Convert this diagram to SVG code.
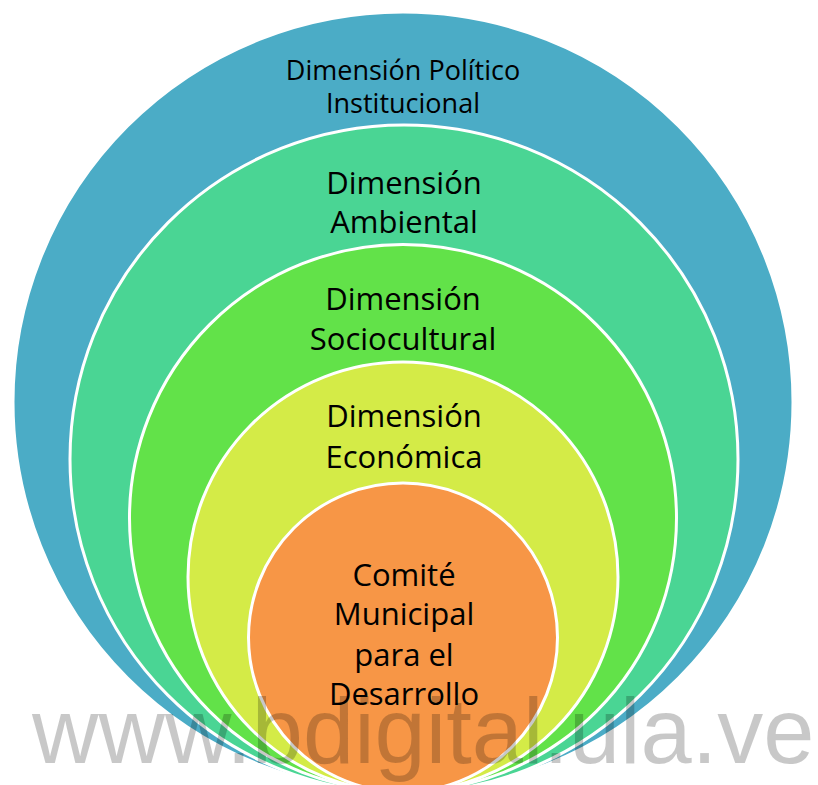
<svg xmlns="http://www.w3.org/2000/svg" width="818" height="785" viewBox="0 0 818 785">
  <style>
    .ring { stroke: #ffffff; stroke-width: 3; }
    .lbl { font-family: "Open Sans", "Liberation Sans", sans-serif; font-size: 31px; fill: #000000; text-anchor: middle; }
    .small { font-size: 27px; }
    .wm { font-family: "Liberation Sans", Arial, sans-serif; font-size: 92px; fill: #000000; fill-opacity: 0.216; }
  </style>
  <rect width="818" height="785" fill="#ffffff"/>
  <g id="politico">
    <circle class="ring" cx="403" cy="402" r="390" fill="#4BACC6"/>
    <text class="lbl small" x="403" y="80">Dimensión Político</text>
    <text class="lbl small" x="403" y="113">Institucional</text>
  </g>
  <g id="ambiental">
    <circle class="ring" cx="404" cy="459" r="334" fill="#4AD594"/>
    <text class="lbl" x="404" y="194">Dimensión</text>
    <text class="lbl" x="404" y="233">Ambiental</text>
  </g>
  <g id="sociocultural">
    <circle class="ring" cx="403" cy="518" r="273.5" fill="#62E249"/>
    <text class="lbl" x="403" y="310">Dimensión</text>
    <text class="lbl" x="403" y="350">Sociocultural</text>
  </g>
  <g id="economica">
    <circle class="ring" cx="403" cy="577" r="215" fill="#D4EB47"/>
    <text class="lbl" x="404" y="427">Dimensión</text>
    <text class="lbl" x="404" y="468">Económica</text>
  </g>
  <g id="comite">
    <circle class="ring" cx="403" cy="637.5" r="154.5" fill="#F79646"/>
    <text class="lbl" x="404" y="586">Comité</text>
    <text class="lbl" x="404" y="625">Municipal</text>
    <text class="lbl" x="404" y="666">para el</text>
    <text class="lbl" x="404" y="705">Desarrollo</text>
  </g>
  <g id="connectors"/>
  <text class="wm" x="32" y="763">www.bdigital.ula.ve</text>
</svg>
